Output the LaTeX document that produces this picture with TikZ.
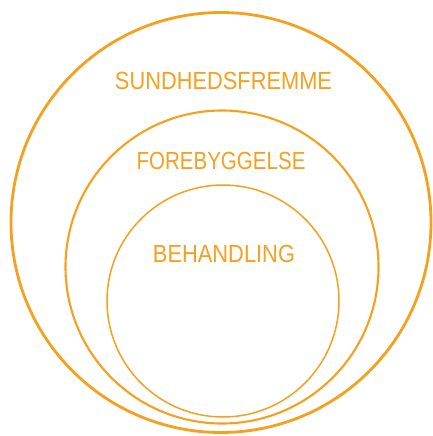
\documentclass[tikz,border=0pt]{standalone}
\usepackage{fontspec}
\setmainfont{Liberation Sans}
\usepackage{graphicx}
\definecolor{ora}{RGB}{246,160,30}
\begin{document}
\begin{tikzpicture}[x=1pt,y=-1pt,
  ring/.style={draw=ora},
  lbl/.style={text=ora,font=\fontsize{24.8}{26}\selectfont,inner sep=0pt,anchor=base}]
\useasboundingbox (0,0) rectangle (433,436);
\node[ring,circle,line width=2.8pt,minimum size=420pt,inner sep=0pt] (outer) at (221,222.5) {};
\node[ring,circle,line width=2.1pt,minimum size=313pt,inner sep=0pt] (middle) at (222,267) {};
\node[ring,circle,line width=1.5pt,minimum size=232pt,inner sep=0pt] (inner) at (223,301) {};
\node[lbl] (t1) at (223.5,89.3) {\scalebox{0.88}[1]{SUNDHEDSFREMME}};
\node[lbl] (t2) at (221,169.3) {\scalebox{0.828}[1]{FOREBYGGELSE}};
\node[lbl] (t3) at (224,262.5) {\scalebox{0.881}[1]{BEHANDLING}};
\end{tikzpicture}
\end{document}
